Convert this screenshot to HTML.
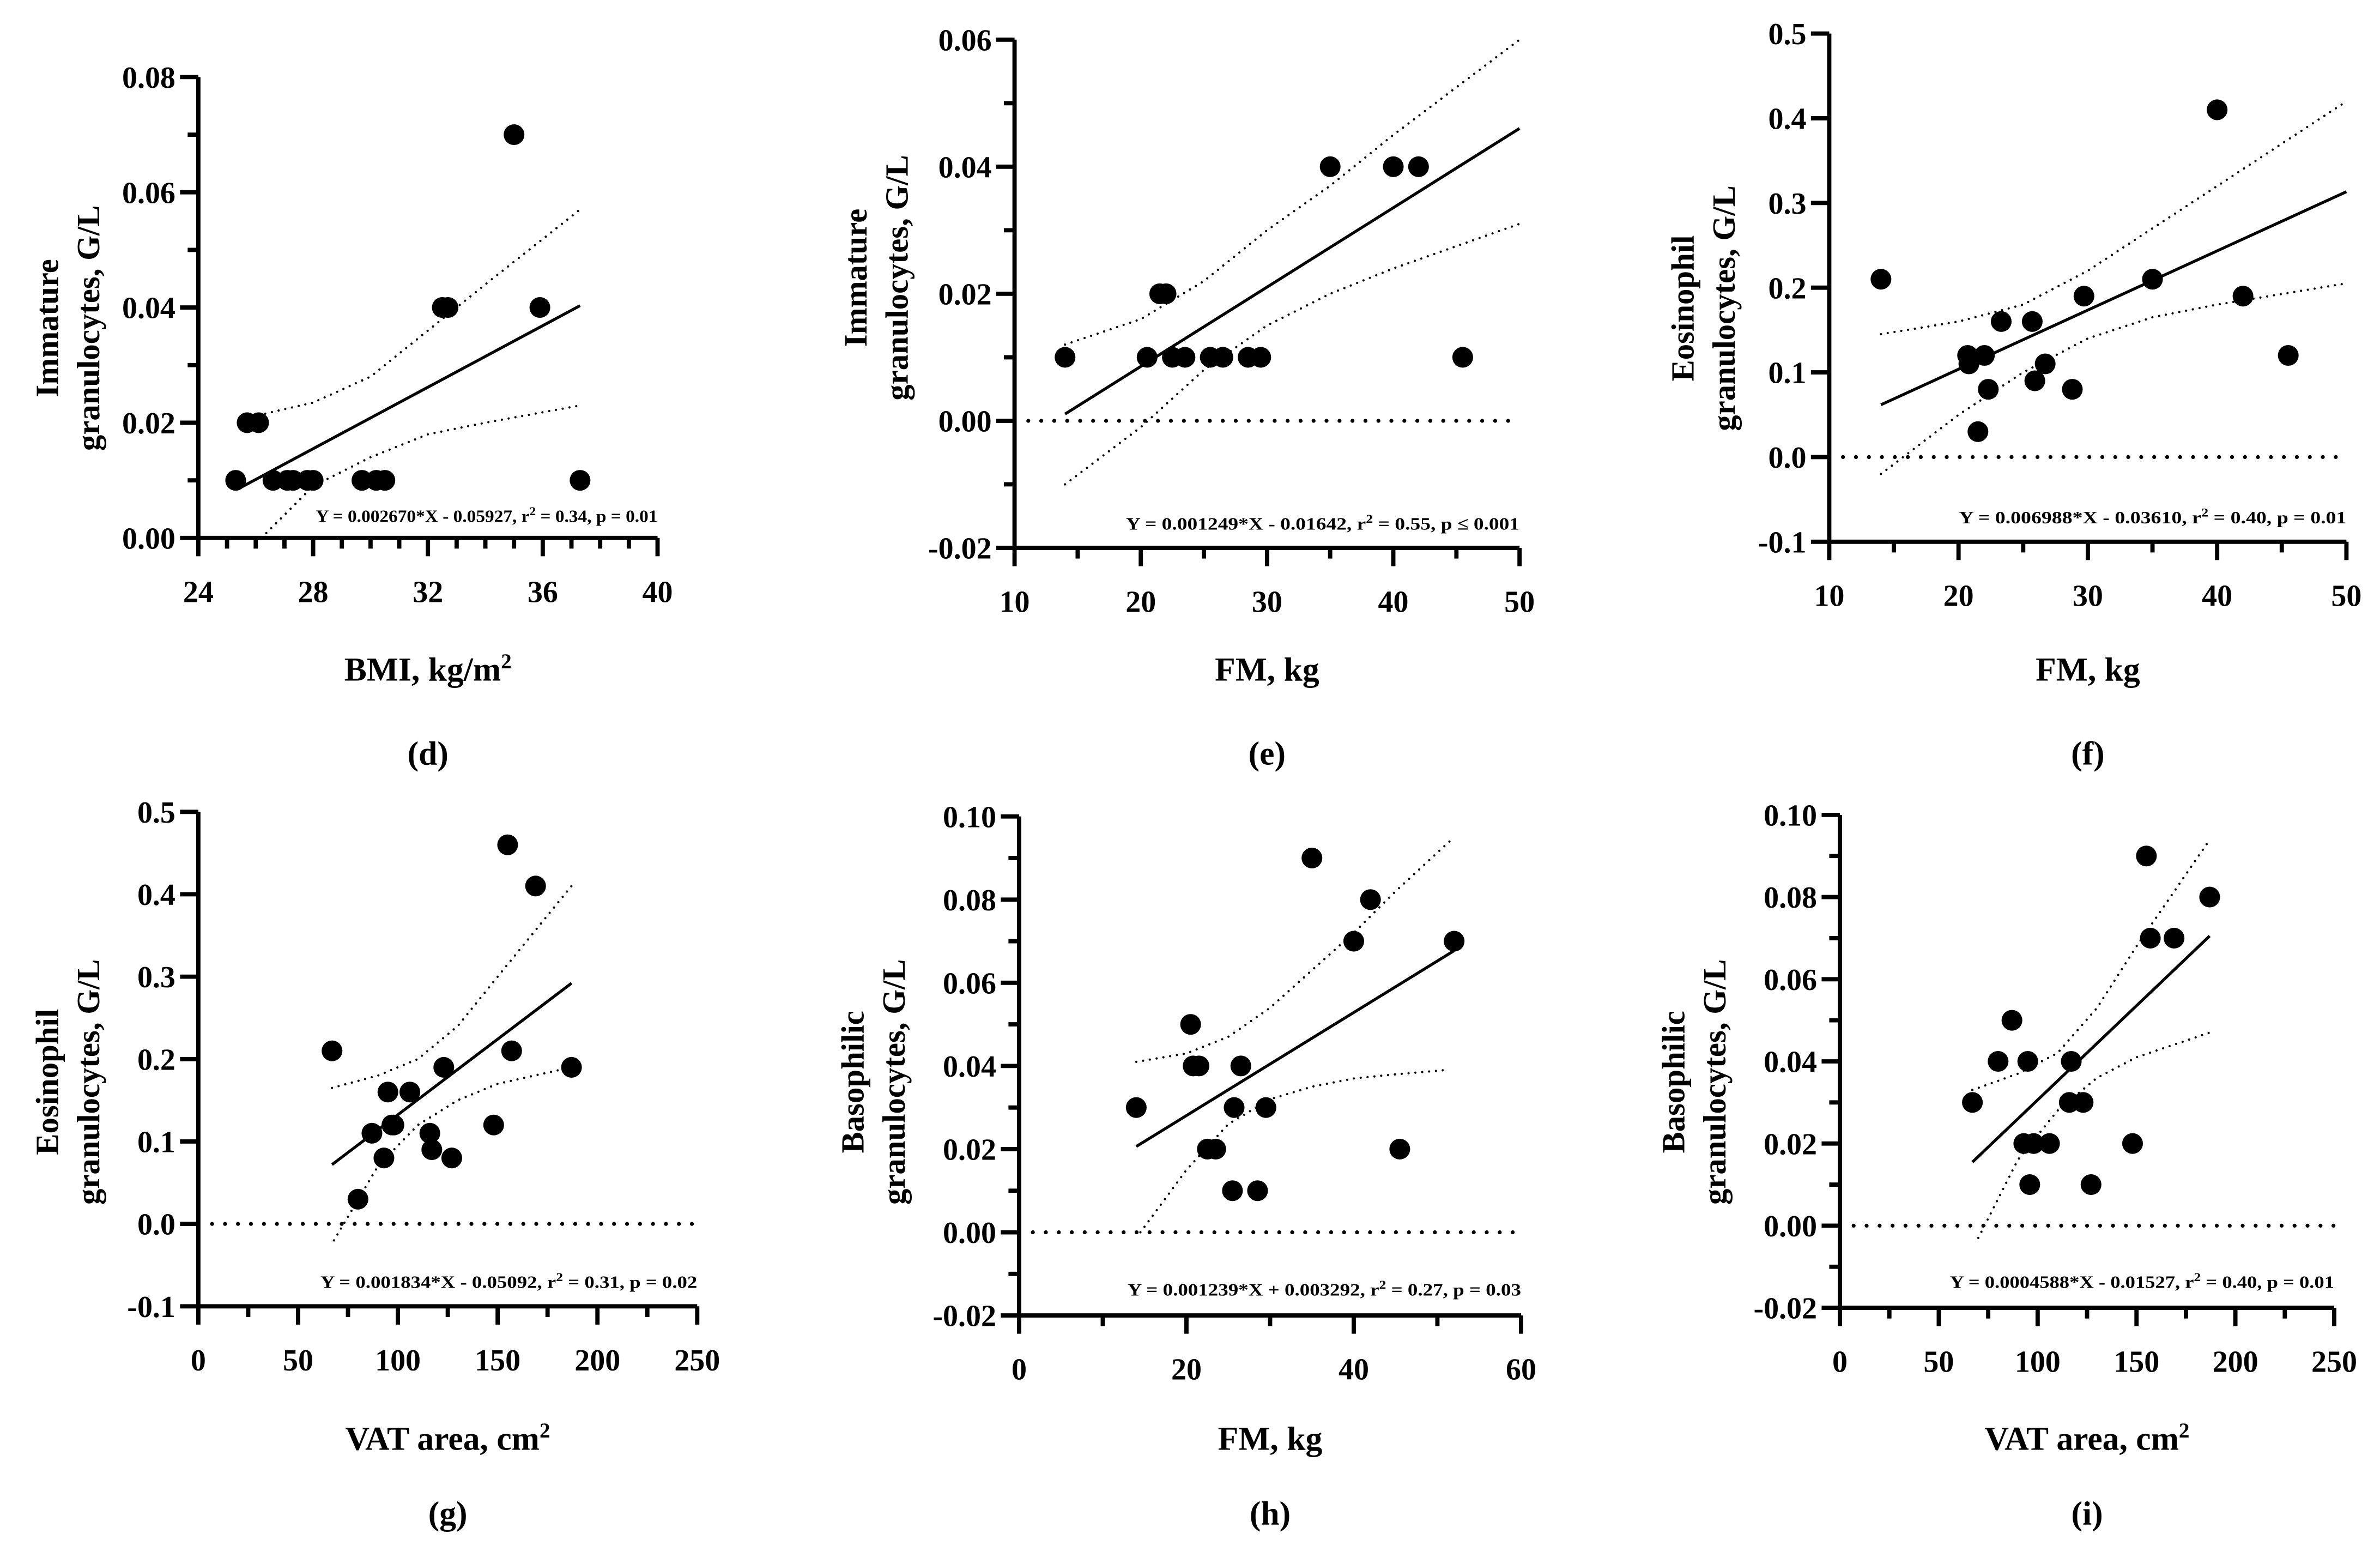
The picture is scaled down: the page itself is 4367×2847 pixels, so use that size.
<!DOCTYPE html>
<html><head><meta charset="utf-8"><style>
html,body{margin:0;padding:0;background:#fff}
svg{display:block}
text{font-family:"Liberation Serif",serif;font-weight:bold;fill:#000}
</style></head><body>
<svg id="fig" width="4367" height="2847" viewBox="0 0 1560 1017" preserveAspectRatio="none" xmlns="http://www.w3.org/2000/svg"></svg>
<script>
// ---- data (d) ----
const dX=[25.3,25.7,26.1,26.6,27.1,27.3,27.8,28.0,29.7,30.2,30.5,32.5,32.7,35.0,35.9,37.3];
const dY=[0.01,0.02,0.02,0.01,0.01,0.01,0.01,0.01,0.01,0.01,0.01,0.04,0.04,0.07,0.04,0.01];
const dFit=[0.002670,-0.05927,25.4,37.3];
const dUpX=[25.4,28,30,32,34,37.3];const dUpY=[0.0205,0.0235,0.028,0.036,0.044,0.057];
const dLoX=[26.2,28,30,32,34,37.3];const dLoY=[0.0,0.009,0.014,0.018,0.020,0.023];
// ---- data (e) ----
const eX=[14,20.5,21.5,22,22.5,23.5,25.5,26.5,28.5,29.5,35,40,42,45.5];
const eY=[0.01,0.01,0.02,0.02,0.01,0.01,0.01,0.01,0.01,0.01,0.04,0.04,0.04,0.01];
const eFit=[0.001249,-0.01642,14,50];
const eUpX=[14,20,25,30,35,40,50];const eUpY=[0.012,0.016,0.022,0.030,0.037,0.045,0.060];
const eLoX=[14,20,25,30,35,40,50];const eLoY=[-0.010,-0.001,0.008,0.015,0.020,0.024,0.031];
// ---- data (f) ----
const fX=[14,20.7,20.8,21.5,22,22.3,23.3,25.7,25.9,26.7,28.8,29.7,35,40,42,45.5];
const fY=[0.21,0.12,0.11,0.03,0.12,0.08,0.16,0.16,0.09,0.11,0.08,0.19,0.21,0.41,0.19,0.12];
const fFit=[0.006988,-0.03610,14,50];
const fUpX=[14,20,25,30,35,40,50];const fUpY=[0.145,0.16,0.18,0.22,0.27,0.32,0.42];
const fLoX=[14,20,25,30,35,40,50];const fLoY=[-0.02,0.05,0.10,0.14,0.165,0.18,0.205];
// ---- data (g) ----
const gX=[67,80,87,93,95,97,98,106,116,117,123,127,148,155,157,169,187];
const gY=[0.21,0.03,0.11,0.08,0.16,0.12,0.12,0.16,0.11,0.09,0.19,0.08,0.12,0.46,0.21,0.41,0.19];
const gFit=[0.001834,-0.05092,67,187];
const gUpX=[67,90,110,130,150,187];const gUpY=[0.165,0.18,0.20,0.24,0.30,0.41];
const gLoX=[68,90,110,130,150,187];const gLoY=[-0.02,0.07,0.12,0.15,0.17,0.19];
// ---- data (h) ----
const hX=[14,20.5,20.8,21.5,22.5,23.5,25.5,25.7,26.5,28.5,29.5,35,40,42,45.5,52];
const hY=[0.03,0.05,0.04,0.04,0.02,0.02,0.01,0.03,0.04,0.01,0.03,0.09,0.07,0.08,0.02,0.07];
const hFit=[0.001239,0.003292,14,52];
const hUpX=[14,20,25,30,35,40,45,52];const hUpY=[0.041,0.043,0.047,0.054,0.063,0.072,0.082,0.095];
const hLoX=[14.5,20,25,30,35,40,45,51];const hLoY=[0.0,0.015,0.026,0.032,0.035,0.037,0.038,0.039];
// ---- data (i) ----
const iX=[67,80,87,93,95,96,98,106,116,117,123,127,148,155,157,169,187];
const iY=[0.03,0.04,0.05,0.02,0.04,0.01,0.02,0.02,0.03,0.04,0.03,0.01,0.02,0.09,0.07,0.07,0.08];
const iFit=[0.0004588,-0.01527,67,187];
const iUpX=[67,90,110,130,150,187];const iUpY=[0.033,0.037,0.042,0.053,0.068,0.094];
const iLoX=[70,90,110,130,150,187];const iLoY=[-0.003,0.016,0.028,0.036,0.041,0.047];
// tick labels
const dXT=["24","28","32","36","40"],dYT=["0.00","0.02","0.04","0.06","0.08"];
const eXT=["10","20","30","40","50"],eYT=["-0.02","0.00","0.02","0.04","0.06"];
const fXT=["10","20","30","40","50"],fYT=["-0.1","0.0","0.1","0.2","0.3","0.4","0.5"];
const gXT=["0","50","100","150","200","250"],gYT=["-0.1","0.0","0.1","0.2","0.3","0.4","0.5"];
const hXT=["0","20","40","60"],hYT=["-0.02","0.00","0.02","0.04","0.06","0.08","0.10"];
const iXT=["0","50","100","150","200","250"],iYT=["-0.02","0.00","0.02","0.04","0.06","0.08","0.10"];

const NS="http://www.w3.org/2000/svg";
const svg=document.getElementById('fig');
function mk(tag,parent,attrs){const e=document.createElementNS(NS,tag);for(const k in attrs)e.setAttribute(k,attrs[k]);parent.appendChild(e);return e;}

function panel(P){
  const g=mk('g',svg,{});
  
  
  const sx=v=>P.px0+(v-P.x0)/(P.x1-P.x0)*(P.px1-P.px0);
  const sy=v=>P.py0+(v-P.y0)/(P.y1-P.y0)*(P.py1-P.py0);
  if(P.zero){const z=mk('line',g,{x1:P.px0+9,x2:P.px1,y1:sy(0),y2:sy(0),stroke:'#000','stroke-width':2.6,'stroke-dasharray':'0 8.5','stroke-linecap':'round'});
    }
  const ax=mk('path',g,{d:`M${P.px0} ${P.py1}V${P.py0}H${P.px1}`,fill:'none',stroke:'#000','stroke-width':2.8});
  
  for(let v=P.y0;v<=P.y1+1e-9;v+=P.ym){
    const major=Math.abs(((v-P.y0)/P.yM)-Math.round((v-P.y0)/P.yM))<1e-6;
    const t=mk('line',g,{x1:P.px0-(major?12:7),x2:P.px0,y1:sy(v),y2:sy(v),stroke:'#000','stroke-width':2.8});
    
  }
  P.yt.forEach((s,k)=>{const t=mk('text',g,{x:P.px0-15,y:sy(P.y0+k*P.yM)+7,'text-anchor':'end','font-size':20});t.textContent=s;
    });
  for(let v=P.x0;v<=P.x1+1e-9;v+=P.xm){
    const major=Math.abs(((v-P.x0)/P.xM)-Math.round((v-P.x0)/P.xM))<1e-6;
    const t=mk('line',g,{x1:sx(v),x2:sx(v),y1:P.py0,y2:P.py0+(major?12:7),stroke:'#000','stroke-width':2.8});
    
  }
  P.xt.forEach((s,k)=>{const t=mk('text',g,{x:sx(P.x0+k*P.xM),y:P.py0+42,'text-anchor':'middle','font-size':20});t.textContent=s;
    });
  [[P.ux,P.uy,'ci-upper'],[P.lx,P.ly,'ci-lower']].forEach(b=>{
    const d=b[0].map((x,k)=>(k?'L':'M')+sx(x).toFixed(1)+' '+sy(b[1][k]).toFixed(1)).join('');
    const p=mk('path',g,{d:d,fill:'none',stroke:'#000','stroke-width':1.5,'stroke-dasharray':'0 4.5','stroke-linecap':'round'});
    
  });
  const f=P.fit;
  const l=mk('line',g,{x1:sx(f[2]),y1:sy(f[0]*f[2]+f[1]),x2:sx(f[3]),y2:sy(f[0]*f[3]+f[1]),stroke:'#000','stroke-width':1.9});
  
  P.xs.forEach((x,k)=>{const c=mk('circle',g,{cx:sx(x),cy:sy(P.ys[k]),r:6.8,fill:'#000'});
    });
  const eq=mk('text',g,{x:P.px1,y:P.eqy,'text-anchor':'end','font-size':11.5,'font-weight':'normal','textLength':P.eqw,'lengthAdjust':'spacingAndGlyphs'});
  eq.innerHTML=P.eq;
  
  const xt=mk('text',g,{x:(P.px0+P.px1)/2,y:P.xty,'text-anchor':'middle','font-size':22});xt.innerHTML=P.xtitle;
  
  const yt=mk('text',g,{transform:`translate(${P.ytx},${P.ytc}) rotate(-90)`,'text-anchor':'middle','font-size':21});
  const a=mk('tspan',yt,{x:0,y:0});a.textContent=P.yl1;
  const b2=mk('tspan',yt,{x:0,y:27});b2.textContent=P.yl2;
  
  const lt=mk('text',g,{x:(P.px0+P.px1)/2,y:P.lty,'text-anchor':'middle','font-size':22,'font-weight':'normal'});
  lt.innerHTML='(<tspan font-weight="bold">'+P.id+'</tspan>)';
  
}
const sup2='<tspan dy="-8" font-size="14">2</tspan>';
const sup2s='<tspan dy="-4.5" font-size="8">2</tspan><tspan dy="4.5">';
const R1={xty:446,lty:501,ytc:200},R2={xty:950,lty:999,ytc:709};
panel(Object.assign({id:'d',px0:130,px1:431,x0:24,x1:40,xM:4,xm:1,py0:352.5,py1:50.5,y0:0,y1:0.08,yM:0.02,ym:0.01,xt:dXT,yt:dYT,zero:false,
  xs:dX,ys:dY,fit:dFit,ux:dUpX,uy:dUpY,lx:dLoX,ly:dLoY,eqy:342,ytx:38,eqw:224,
  eq:'Y = 0.002670*X - 0.05927, r'+sup2s+'  =  0.34, p = 0.01</tspan>',xtitle:'BMI, kg/m'+sup2,yl1:'Immature',yl2:'granulocytes, G/L'},R1,{ytc:215}));
panel(Object.assign({id:'e',px0:665,px1:996,x0:10,x1:50,xM:10,xm:5,py0:359,py1:26,y0:-0.02,y1:0.06,yM:0.02,ym:0.01,xt:eXT,yt:eYT,zero:true,
  xs:eX,ys:eY,fit:eFit,ux:eUpX,uy:eUpY,lx:eLoX,ly:eLoY,eqy:347,ytx:568,eqw:258,
  eq:'Y = 0.001249*X - 0.01642, r'+sup2s+'  =  0.55, p ≤ 0.001</tspan>',xtitle:'FM, kg',yl1:'Immature',yl2:'granulocytes, G/L'},R1,{ytc:182}));
panel(Object.assign({id:'f',px0:1199,px1:1538,x0:10,x1:50,xM:10,xm:5,py0:355,py1:22,y0:-0.1,y1:0.5,yM:0.1,ym:0.1,xt:fXT,yt:fYT,zero:true,
  xs:fX,ys:fY,fit:fFit,ux:fUpX,uy:fUpY,lx:fLoX,ly:fLoY,eqy:343,ytx:1110,eqw:254,
  eq:'Y = 0.006988*X - 0.03610, r'+sup2s+'  =  0.40, p = 0.01</tspan>',xtitle:'FM, kg',yl1:'Eosinophil',yl2:'granulocytes, G/L'},R1,{ytc:202}));
panel(Object.assign({id:'g',px0:130,px1:457,x0:0,x1:250,xM:50,xm:25,py0:856,py1:532,y0:-0.1,y1:0.5,yM:0.1,ym:0.1,xt:gXT,yt:gYT,zero:true,
  xs:gX,ys:gY,fit:gFit,ux:gUpX,uy:gUpY,lx:gLoX,ly:gLoY,eqy:844,ytx:38,eqw:247,
  eq:'Y = 0.001834*X - 0.05092, r'+sup2s+'  =  0.31, p = 0.02</tspan>',xtitle:'VAT area, cm'+sup2,yl1:'Eosinophil',yl2:'granulocytes, G/L'},R2));
panel(Object.assign({id:'h',px0:668,px1:997,x0:0,x1:60,xM:20,xm:10,py0:862,py1:535,y0:-0.02,y1:0.10,yM:0.02,ym:0.01,xt:hXT,yt:hYT,zero:true,
  xs:hX,ys:hY,fit:hFit,ux:hUpX,uy:hUpY,lx:hLoX,ly:hLoY,eqy:849,ytx:566,eqw:258,
  eq:'Y = 0.001239*X + 0.003292, r'+sup2s+'  =  0.27, p = 0.03</tspan>',xtitle:'FM, kg',yl1:'Basophilic',yl2:'granulocytes, G/L'},R2));
panel(Object.assign({id:'i',px0:1206,px1:1530,x0:0,x1:250,xM:50,xm:25,py0:857,py1:534,y0:-0.02,y1:0.10,yM:0.02,ym:0.01,xt:iXT,yt:iYT,zero:true,
  xs:iX,ys:iY,fit:iFit,ux:iUpX,uy:iUpY,lx:iLoX,ly:iLoY,eqy:844,ytx:1104,eqw:252,
  eq:'Y = 0.0004588*X - 0.01527, r'+sup2s+'  =  0.40, p = 0.01</tspan>',xtitle:'VAT area, cm'+sup2,yl1:'Basophilic',yl2:'granulocytes, G/L'},R2));
</script>
</body></html>
